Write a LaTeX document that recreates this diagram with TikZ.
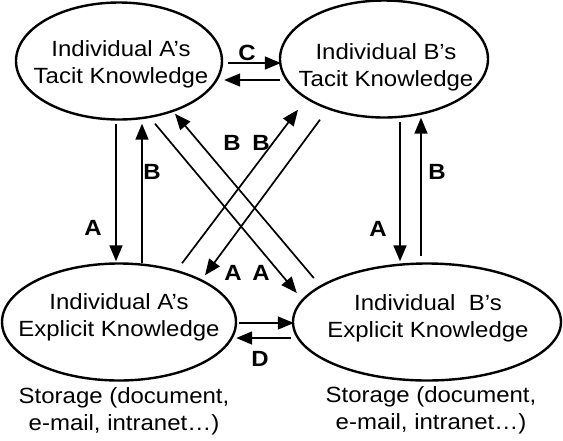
\documentclass[tikz,border=0pt]{standalone}
\usepackage{fontspec}
\setmainfont{Liberation Sans}[FakeStretch=1.09]
\usetikzlibrary{arrows.meta, positioning, calc, shapes}

\begin{document}
\begin{tikzpicture}[x=1pt, y=-1pt,
  every node/.style={font=\fontsize{22}{27}\selectfont},
  ell/.style={draw, ellipse, line width=2.4pt, minimum height=117pt, inner sep=0pt},
  txt/.style={align=center, inner sep=0pt},
  lbl/.style={font=\fontsize{22}{22}\selectfont\bfseries, inner sep=0pt},
  arrow/.style={-{Triangle[length=16pt, width=13pt]}, line width=1.7pt}
]
  \useasboundingbox (0,0) rectangle (563,440);

  % knowledge ellipses
  \node[ell, minimum width=206pt] (atacit) at (119,61) {};
  \node[ell, minimum width=208pt] (btacit) at (384,59) {};
  \node[ell, minimum width=234pt] (aexpl) at (119,322) {};
  \node[ell, minimum width=268pt] (bexpl) at (427,322) {};

  \node[txt] (atacit-t) at (121,64) {Individual A's\\Tacit Knowledge};
  \node[txt] (btacit-t) at (386,67) {Individual B's\\Tacit Knowledge};
  \node[txt] (aexpl-t) at (119,317) {Individual A's\\Explicit Knowledge};
  \node[txt] (bexpl-t) at (428,318) {Individual\ \ B's\\Explicit Knowledge};

  % storage notes
  \node[txt] (astore) at (124,411) {Storage (document,\\e-mail, intranet\ldots)};
  \node[txt] (bstore) at (431,410) {Storage (document,\\e-mail, intranet\ldots)};

  % tacit <-> explicit, same person
  \draw[arrow] ($(atacit.south)+(-3,3)$) -- ($(aexpl.north)+(-3,-1)$);
  \draw[arrow] ($(aexpl.north)+(23,1)$) -- ($(atacit.south)+(23,3)$);
  \draw[arrow] ($(btacit.south)+(16,3)$) -- ($(bexpl.north)+(-27,-1)$);
  \draw[arrow] ($(bexpl.north)+(-6,-6)$) -- ($(btacit.south)+(37,-1)$);

  % tacit <-> tacit, explicit <-> explicit
  \draw[arrow] ($(atacit.east)+(5,2)$) -- ($(btacit.west)+(2,4)$);
  \draw[arrow] ($(btacit.west)+(1,21)$) -- ($(atacit.east)+(1,19)$);
  \draw[arrow] ($(aexpl.east)+(2,1)$) -- ($(bexpl.west)+(2,1)$);
  \draw[arrow] ($(bexpl.west)+(-1,16)$) -- ($(aexpl.east)+(-1,16)$);

  % crossing arrows
  \draw[arrow] ($(atacit.south)+(36,3)$) -- ($(bexpl.west)+(5,-29)$);
  \draw[arrow] ($(bexpl.west)+(22,-44)$) -- ($(atacit.south)+(56,-7)$);
  \draw[arrow] ($(aexpl.north)+(63,1)$) -- ($(btacit.south)+(-86,-9)$);
  \draw[arrow] ($(btacit.south)+(-64,1)$) -- ($(aexpl.north)+(86,13)$);

  % arrow labels
  \node[lbl] (lc) at (247,53) {C};
  \node[lbl] (la1) at (93,228) {A};
  \node[lbl] (lb1) at (152,172) {B};
  \node[lbl] (la2) at (378,229) {A};
  \node[lbl] (lb2) at (437,172) {B};
  \node[lbl] (lb3) at (232,143) {B};
  \node[lbl] (lb4) at (261,143) {B};
  \node[lbl] (la3) at (233,273) {A};
  \node[lbl] (la4) at (261,273) {A};
  \node[lbl] (ld) at (260,359) {D};
\end{tikzpicture}
\end{document}
